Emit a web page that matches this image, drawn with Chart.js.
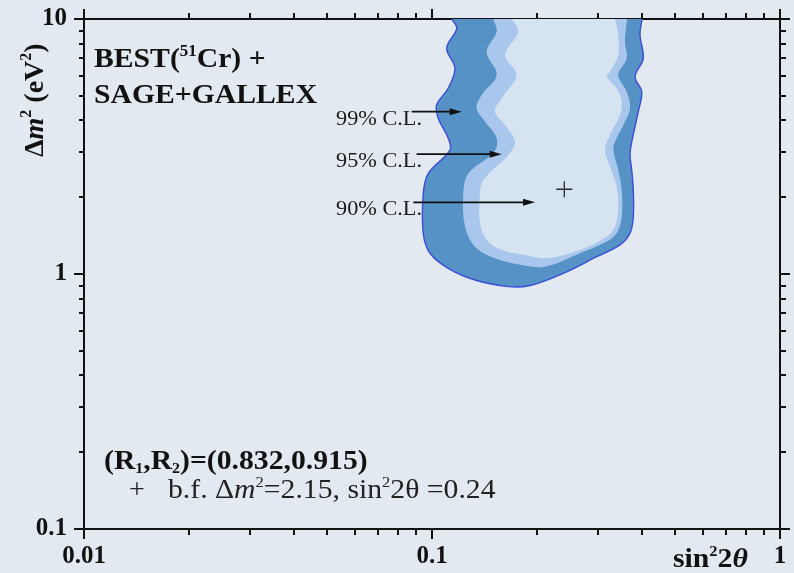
<!DOCTYPE html>
<html>
<head>
<meta charset="utf-8">
<script src="https://cdn.jsdelivr.net/npm/chart.js@4/dist/chart.umd.min.js"></script>
<style>
  html, body { margin: 0; padding: 0; background: #e3e9f1; }
  #c { display: block; }
</style>
</head>
<body>
<canvas id="c" width="794" height="573"></canvas>
<script>
// Allowed regions in the (sin^2 2θ, Δm^2) plane, traced clockwise from the top-left edge.
const cl99X = [0.1139, 0.1178, 0.1102, 0.1164, 0.1113, 0.1031, 0.1042, 0.1113, 0.1126, 0.0976, 0.0944, 0.0944, 0.0987, 0.1113, 0.1329, 0.1657, 0.1912, 0.2384, 0.2974, 0.3469, 0.3707, 0.3788, 0.3788, 0.3749, 0.3707, 0.3749, 0.3916, 0.4005, 0.3833, 0.4047, 0.3960, 0.4013];
const cl99Y = [10, 9.19, 7.68, 6.41, 5.35, 4.60, 4.08, 3.41, 3.06, 2.48, 2.07, 1.44, 1.206, 1.053, 0.947, 0.892, 0.901, 1.006, 1.169, 1.30, 1.444, 1.678, 2.135, 2.557, 2.93, 3.30, 4.33, 5.19, 5.94, 7.01, 8.66, 10];

const cl95X = [0.1500, 0.1534, 0.1436, 0.1534, 0.1389, 0.1344, 0.1420, 0.1534, 0.1508, 0.1272, 0.1230, 0.1244, 0.1329, 0.1517, 0.1810, 0.2112, 0.2662, 0.3107, 0.3394, 0.3508, 0.3508, 0.3430, 0.3319, 0.3356, 0.3546, 0.3707, 0.3626, 0.3430, 0.3626, 0.3585, 0.3634];
const cl95Y = [10, 8.92, 7.44, 6.03, 5.04, 4.47, 3.96, 3.41, 3.01, 2.48, 2.07, 1.533, 1.28, 1.152, 1.085, 1.068, 1.206, 1.319, 1.444, 1.678, 2.135, 2.557, 3.06, 3.30, 3.84, 4.47, 5.19, 6.03, 7.01, 8.15, 10];

const cl90X = [0.1694, 0.1770, 0.1621, 0.1751, 0.1586, 0.1517, 0.1621, 0.1732, 0.1657, 0.1404, 0.1374, 0.1374, 0.1436, 0.1586, 0.1850, 0.2136, 0.2662, 0.3177, 0.3356, 0.3430, 0.3394, 0.3247, 0.3143, 0.3247, 0.3469, 0.3508, 0.3394, 0.3177, 0.3247, 0.3430, 0.3430, 0.3356];
const cl90Y = [10, 8.92, 7.22, 6.03, 4.89, 4.33, 3.84, 3.30, 2.93, 2.337, 2.07, 1.58, 1.36, 1.242, 1.187, 1.152, 1.242, 1.40, 1.533, 1.836, 2.20, 2.635, 3.06, 3.51, 4.20, 4.74, 5.35, 5.94, 6.21, 7.22, 8.66, 10];

// Best-fit point
const bestSin2 = 0.24;
const bestDm2 = 2.15;

// Ratio values quoted on the plot
const rValues = ['0.832', '0.915'];

// Confidence-level labels and their arrows
const clLabels = ['99% C.L.', '95% C.L.', '90% C.L.'];
const arrowFromX = [0.0874, 0.0903, 0.0884];
const arrowToX = [0.1217, 0.1586, 0.1977];
const arrowY = [4.33, 2.95, 1.91];
const clLabelX = 0.053;

// Axis ticks
const xMajorTicks = [0.01, 0.1, 1];
const xTickLabels = ['0.01', '0.1', '1'];
const xMinorTicks = [0.02, 0.03, 0.04, 0.05, 0.06, 0.07, 0.08, 0.09, 0.2, 0.3, 0.4, 0.5, 0.6, 0.7, 0.8, 0.9];
const yMajorTicks = [0.1, 1, 10];
const yTickLabels = ['0.1', '1', '10'];
const yMinorTicks = [0.2, 0.3, 0.4, 0.5, 0.6, 0.7, 0.8, 0.9, 2, 3, 4, 5, 6, 7, 8, 9];

const SERIF = '"Liberation Serif", "Times New Roman", serif';
const INK = '#111111';

const toPoints = (xs, ys) => xs.map((x, i) => ({ x: x, y: ys[i] }));

function tickSetter(values) {
  return (scale) => {
    scale.ticks = values.slice().sort((a, b) => a - b).map(v => ({ value: v, major: false }));
  };
}

// One log axis; `labels` gives the printed text for the major ticks, if any.
function logAxis(axis, position, min, max, values, tickLength, labels, fitSize, weight) {
  const allMajors = axis === 'x' ? xMajorTicks : yMajorTicks;
  return {
    type: 'logarithmic',
    axis: axis,
    position: position,
    min: min,
    max: max,
    weight: weight,
    afterBuildTicks: tickSetter(values),
    afterFit: (scale) => {
      if (axis === 'x') scale.height = fitSize; else scale.width = fitSize;
      // edge labels fit inside the fixed outer padding
      scale.paddingTop = 0;
      scale.paddingBottom = 0;
      scale.paddingLeft = 0;
      scale.paddingRight = 0;
    },
    border: { display: true, color: INK, width: 2 },
    grid: {
      drawOnChartArea: false,
      drawTicks: true,
      tickLength: tickLength,
      tickWidth: 2,
      tickColor: INK,
      color: INK,
      lineWidth: 2
    },
    ticks: {
      display: !!labels,
      autoSkip: false,
      maxRotation: 0,
      minRotation: 0,
      padding: axis === 'x' ? 7 : 12,
      color: INK,
      font: { family: SERIF, size: 25, weight: 'bold' },
      callback: (v) => {
        if (!labels) return '';
        const idx = allMajors.findIndex(m => Math.abs(m - v) / m < 1e-6);
        return idx >= 0 ? labels[idx] : '';
      }
    }
  };
}

// Draw a sequence of text pieces with individual fonts and vertical shifts,
// optionally widened by the factor sx.
function drawRuns(ctx, x, y, runs, sx) {
  ctx.save();
  ctx.translate(x, y);
  ctx.scale(sx || 1, 1);
  let cx = 0;
  for (const r of runs) {
    ctx.font = r.f;
    ctx.fillText(r.t, cx, r.dy || 0);
    cx += ctx.measureText(r.t).width;
  }
  ctx.restore();
}

const bold = (s) => `bold ${s}px ${SERIF}`;
const boldIt = (s) => `italic bold ${s}px ${SERIF}`;
const reg = (s) => `${s}px ${SERIF}`;
const it = (s) => `italic ${s}px ${SERIF}`;

const decorations = {
  id: 'decorations',
  beforeDraw(chart) {
    const ctx = chart.ctx;
    ctx.save();
    ctx.fillStyle = '#e3e9f1';
    ctx.fillRect(0, 0, chart.width, chart.height);
    ctx.restore();
  },
  afterDatasetsDraw(chart) {
    const ctx = chart.ctx;
    const xs = chart.scales.x, ys = chart.scales.y;
    const area = chart.chartArea;
    ctx.save();
    ctx.fillStyle = INK;
    ctx.strokeStyle = INK;
    ctx.textBaseline = 'alphabetic';

    // Arrows pointing at each contour, with their labels
    for (let i = 0; i < clLabels.length; i++) {
      const x1 = xs.getPixelForValue(arrowFromX[i]);
      const x2 = xs.getPixelForValue(arrowToX[i]);
      const y = ys.getPixelForValue(arrowY[i]);
      ctx.lineWidth = 1.8;
      ctx.beginPath();
      ctx.moveTo(x1, y);
      ctx.lineTo(x2 - 8, y);
      ctx.stroke();
      ctx.beginPath();
      ctx.moveTo(x2, y);
      ctx.lineTo(x2 - 12, y - 3.5);
      ctx.lineTo(x2 - 12, y + 3.5);
      ctx.closePath();
      ctx.fill();
      ctx.fillStyle = '#1a1a1a';
      drawRuns(ctx, xs.getPixelForValue(clLabelX), y + 13, [{ t: clLabels[i], f: reg(21) }], 1.06);
      ctx.fillStyle = INK;
    }

    // Data-set caption
    const lx = area.left + 10;
    drawRuns(ctx, lx, area.top + 48, [
      { t: 'BEST(', f: bold(28) },
      { t: '51', f: bold(16), dy: -11 },
      { t: 'Cr) +', f: bold(28) }
    ], 1.06);
    drawRuns(ctx, lx, area.top + 84, [{ t: 'SAGE+GALLEX', f: bold(28) }], 1.06);

    // Ratios and best-fit legend
    drawRuns(ctx, area.left + 20, area.top + 450, [
      { t: '(R', f: bold(28) },
      { t: '1', f: bold(15), dy: 4 },
      { t: ',R', f: bold(28) },
      { t: '2', f: bold(15), dy: 4 },
      { t: ')=(' + rValues[0] + ',' + rValues[1] + ')', f: bold(28) }
    ], 1.06);
    ctx.fillStyle = '#222';
    drawRuns(ctx, area.left + 45, area.top + 479, [{ t: '+', f: reg(28) }]);
    drawRuns(ctx, area.left + 84, area.top + 479, [
      { t: 'b.f. ', f: reg(27) },
      { t: '\u0394', f: reg(27) },
      { t: 'm', f: it(27) },
      { t: '2', f: reg(15), dy: -11 },
      { t: '=' + bestDm2 + ', sin', f: reg(27) },
      { t: '2', f: reg(15), dy: -11 },
      { t: '2\u03b8 =' + bestSin2, f: reg(27) }
    ], 1.1);
    ctx.fillStyle = INK;

    // x-axis title, placed left of the last tick label
    drawRuns(ctx, area.right - 107, area.bottom + 38, [
      { t: 'sin', f: bold(27) },
      { t: '2', f: bold(15), dy: -11 },
      { t: '2', f: bold(27) },
      { t: '\u03b8', f: boldIt(27) }
    ], 1.1);

    // y-axis title, rotated
    ctx.translate(area.left - 41, area.top + 138);
    ctx.rotate(-Math.PI / 2);
    drawRuns(ctx, 0, 0, [
      { t: '\u0394', f: bold(28) },
      { t: 'm', f: boldIt(28) },
      { t: '2', f: bold(16), dy: -12 },
      { t: ' (eV', f: bold(28) },
      { t: '2', f: bold(16), dy: -12 },
      { t: ')', f: bold(28) }
    ]);
    ctx.restore();
  }
};

const ctx = document.getElementById('c').getContext('2d');
new Chart(ctx, {
  type: 'scatter',
  data: {
    datasets: [
      {
        label: 'best fit',
        data: [{ x: bestSin2, y: bestDm2 }],
        pointStyle: 'cross',
        pointRadius: 8,
        pointBorderWidth: 1.3,
        borderColor: '#2a2a2a',
        showLine: false,
        order: 0
      },
      {
        label: '90% C.L.',
        data: toPoints(cl90X, cl90Y),
        showLine: true,
        fill: 'shape',
        backgroundColor: '#d6e4f1',
        borderWidth: 0,
        borderColor: 'rgba(0,0,0,0)',
        pointRadius: 0,
        tension: 0.35,
        order: 1
      },
      {
        label: '95% C.L.',
        data: toPoints(cl95X, cl95Y),
        showLine: true,
        fill: 'shape',
        backgroundColor: '#a9c7ed',
        borderWidth: 0,
        borderColor: 'rgba(0,0,0,0)',
        pointRadius: 0,
        tension: 0.35,
        order: 2
      },
      {
        label: '99% C.L.',
        data: toPoints(cl99X, cl99Y),
        showLine: true,
        fill: 'shape',
        backgroundColor: '#5792c6',
        borderWidth: 1.4,
        borderColor: '#3a4ed8',
        pointRadius: 0,
        tension: 0.35,
        order: 3
      }
    ]
  },
  options: {
    responsive: false,
    animation: false,
    devicePixelRatio: 1,
    layout: { padding: { top: 19, right: 14, left: 0, bottom: 0 } },
    plugins: {
      legend: { display: false },
      tooltip: { enabled: false },
      filler: { drawTime: 'beforeDatasetDraw' }
    },
    scales: {
      x: logAxis('x', 'bottom', 0.01, 1, xMajorTicks.concat(xMinorTicks), 6, xTickLabels, 44, 1),
      xMajor: logAxis('x', 'bottom', 0.01, 1, xMajorTicks, 10, null, 0, 0),
      xTop: logAxis('x', 'top', 0.01, 1, xMajorTicks.concat(xMinorTicks), 6, null, 0, 0),
      xTopMajor: logAxis('x', 'top', 0.01, 1, xMajorTicks, 10, null, 0, 0),
      y: logAxis('y', 'left', 0.1, 10, yMajorTicks.concat(yMinorTicks), 5, yTickLabels, 84, 1),
      yMajor: logAxis('y', 'left', 0.1, 10, yMajorTicks, 10, null, 0, 0),
      yRight: logAxis('y', 'right', 0.1, 10, yMajorTicks.concat(yMinorTicks), 6, null, 0, 0),
      yRightMajor: logAxis('y', 'right', 0.1, 10, yMajorTicks, 10, null, 0, 0)
    }
  },
  plugins: [decorations]
});
</script>
</body>
</html>
